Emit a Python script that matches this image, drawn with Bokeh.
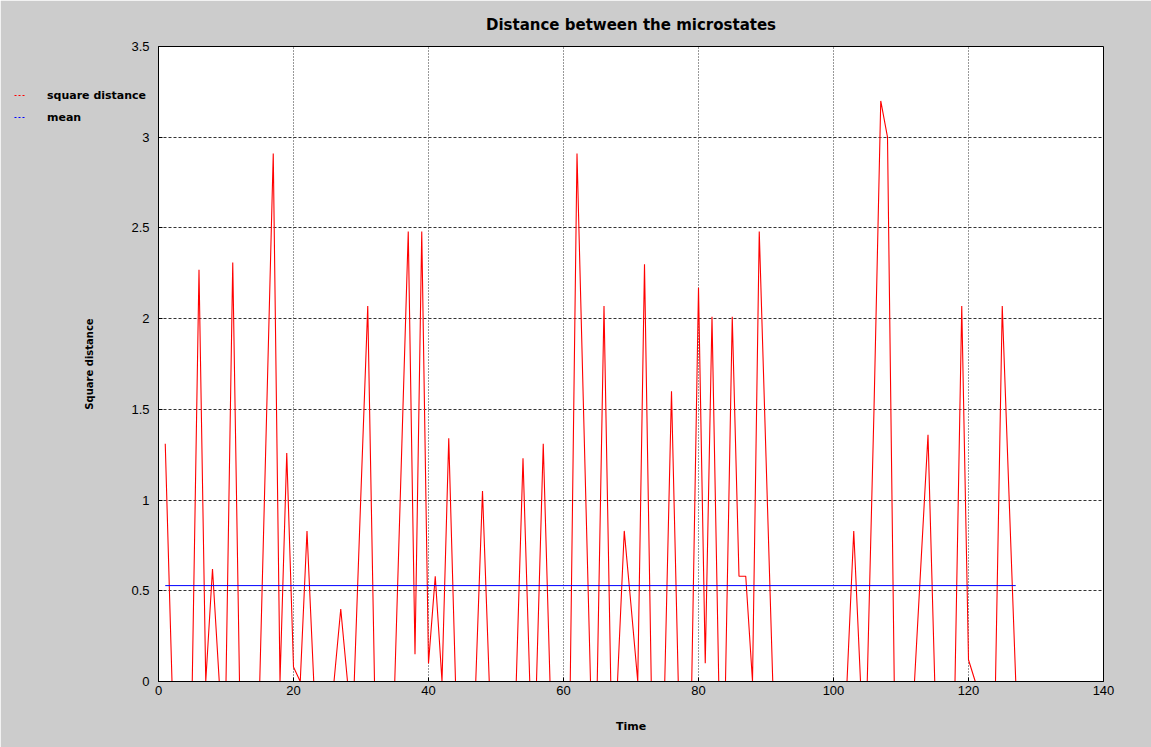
import numpy as np
from bokeh.plotting import figure
from bokeh.layouts import row
from bokeh.models import FixedTicker, Range1d, Legend, LegendItem
from bokeh.embed import file_html
from bokeh.resources import INLINE

# Squared distance between successive microstates, one sample per time step
time = list(range(1, 128))
square_distance = [
    1.31, 0, 0, 0, 0, 2.27, 0, 0.62, 0, 0,          # 1-10
    2.31, 0, 0, 0, 0, 1.45, 2.91, 0, 1.26, 0.08,    # 11-20
    0, 0.83, 0, 0, 0, 0, 0.40, 0, 0, 1.05,          # 21-30
    2.07, 0, 0, 0, 0, 1.24, 2.48, 0.15, 2.48, 0.10, # 31-40
    0.58, 0, 1.34, 0, 0, 0, 0, 1.05, 0, 0,          # 41-50
    0, 0, 0, 1.23, 0, 0, 1.31, 0, 0, 0,             # 51-60
    0, 2.91, 1.45, 0, 0, 2.07, 0, 0, 0.83, 0.42,    # 61-70
    0, 2.30, 0, 0, 0, 1.60, 0, 0, 0, 2.17,          # 71-80
    0.10, 2.01, 0, 0, 2.01, 0.58, 0.58, 0, 2.48, 1.24,  # 81-90
    0, 0, 0, 0, 0, 0, 0, 0, 0, 0,                   # 91-100
    0, 0, 0.83, 0, 0, 1.50, 3.20, 3.00, 0, 0,       # 101-110
    0, 0, 0.68, 1.36, 0, 0, 0, 0, 2.07, 0.12,       # 111-120
    0, 0, 0, 0, 2.07, 1.03, 0,                      # 121-127
]
mean_distance = float(np.mean(square_distance))

x_ticks = [0, 20, 40, 60, 80, 100, 120, 140]
y_ticks = [0, 0.5, 1, 1.5, 2, 2.5, 3, 3.5]
y_tick_labels = ["0", "0.5", "1", "1.5", "2", "2.5", "3", "3.5"]

legend_labels = ["square distance", "mean"]
legend_colors = ["red", "blue"]

GRAY = "#cccccc"
TICK_FONT = "Liberation Sans"
BOLD_FONT = "DejaVu Sans"
W, H = 1151, 747
BORDER_TOP, BORDER_BOTTOM = 45, 66

p = figure(
    width=W, height=H,
    output_backend="svg", toolbar_location=None,
    x_range=Range1d(0, 140), y_range=Range1d(0, 3.5),
    min_border_left=158, min_border_right=48,
    min_border_top=BORDER_TOP, min_border_bottom=BORDER_BOTTOM,
    background_fill_color="white", border_fill_color=GRAY,
    outline_line_color="black", outline_line_width=1,
)

# title
p.title.text = "Distance between the microstates"
p.title.align = "center"
p.title.text_font = BOLD_FONT
p.title.text_font_style = "bold"
p.title.text_font_size = "15px"
p.title.text_color = "black"
p.title.standoff = 26

# axes
p.xaxis.ticker = FixedTicker(ticks=x_ticks)
p.yaxis.ticker = FixedTicker(ticks=y_ticks)
p.yaxis.major_label_overrides = {t: s for t, s in zip(y_ticks, y_tick_labels)}
for ax in (p.xaxis, p.yaxis):
    ax.major_tick_in = 4
    ax.major_tick_out = 0
    ax.minor_tick_line_color = None
    ax.axis_line_color = "black"
    ax.major_tick_line_color = "black"
    ax.major_label_text_font = TICK_FONT
    ax.major_label_text_font_size = "13px"
    ax.major_label_text_color = "black"
    ax.axis_label_text_font = BOLD_FONT
    ax.axis_label_text_font_style = "bold"
    ax.axis_label_text_color = "black"

p.xaxis.axis_label = "Time"
p.xaxis.axis_label_text_font_size = "11px"
p.xaxis.major_label_standoff = 4
p.xaxis.axis_label_standoff = 22

p.yaxis.axis_label = "Square distance"
p.yaxis.axis_label_text_font_size = "10px"
p.yaxis.major_label_standoff = 9
p.yaxis.axis_label_standoff = 33

# grid
p.xgrid.grid_line_color = "black"
p.xgrid.grid_line_dash = "1 2"
p.xgrid.grid_line_alpha = 0.8
p.ygrid.grid_line_color = "black"
p.ygrid.grid_line_dash = "3 2"
p.ygrid.grid_line_alpha = 0.8

# data
p.line(time, square_distance, line_color=legend_colors[0], line_width=1.1)
p.line([time[0], time[-1]], [mean_distance, mean_distance],
       line_color=legend_colors[1], line_width=1)

# key: a transparent full-size layer stacked over the chart (pulled back
# by a negative margin), whose frame spans the whole width so the legend
# can sit in the grey margin left of the axes
key = figure(
    width=W, height=H,
    output_backend="svg", toolbar_location=None,
    x_range=Range1d(0, 1), y_range=Range1d(0, 1),
    x_axis_type=None, y_axis_type=None,
    min_border_left=0, min_border_right=0,
    min_border_top=BORDER_TOP, min_border_bottom=BORDER_BOTTOM,
    outline_line_color=None,
    background_fill_alpha=0, border_fill_alpha=0,
    margin=(0, 0, 0, -W),
)
key.grid.visible = False
# stand-in renderers for the key swatches; their points lie outside the
# layer's range, so only the legend swatch is drawn
samples = [key.line([2, 3], [2, 2], line_color=c, line_width=1.2,
                    line_dash="2 2")
           for c in legend_colors]
key_top = 85
key_height = 2 * 20 + 2
key.add_layout(Legend(
    items=[LegendItem(label=lab, renderers=[r])
           for lab, r in zip(legend_labels, samples)],
    location=(14, H - BORDER_BOTTOM - key_top - key_height),
    background_fill_alpha=0, border_line_alpha=0,
    label_text_font=BOLD_FONT, label_text_font_style="bold",
    label_text_font_size="11px", label_text_color="black",
    glyph_width=12, glyph_height=20, label_height=20,
    spacing=2, padding=0, margin=0, label_standoff=21,
))

open("out.html", "w").write(file_html(row(p, key), INLINE))
